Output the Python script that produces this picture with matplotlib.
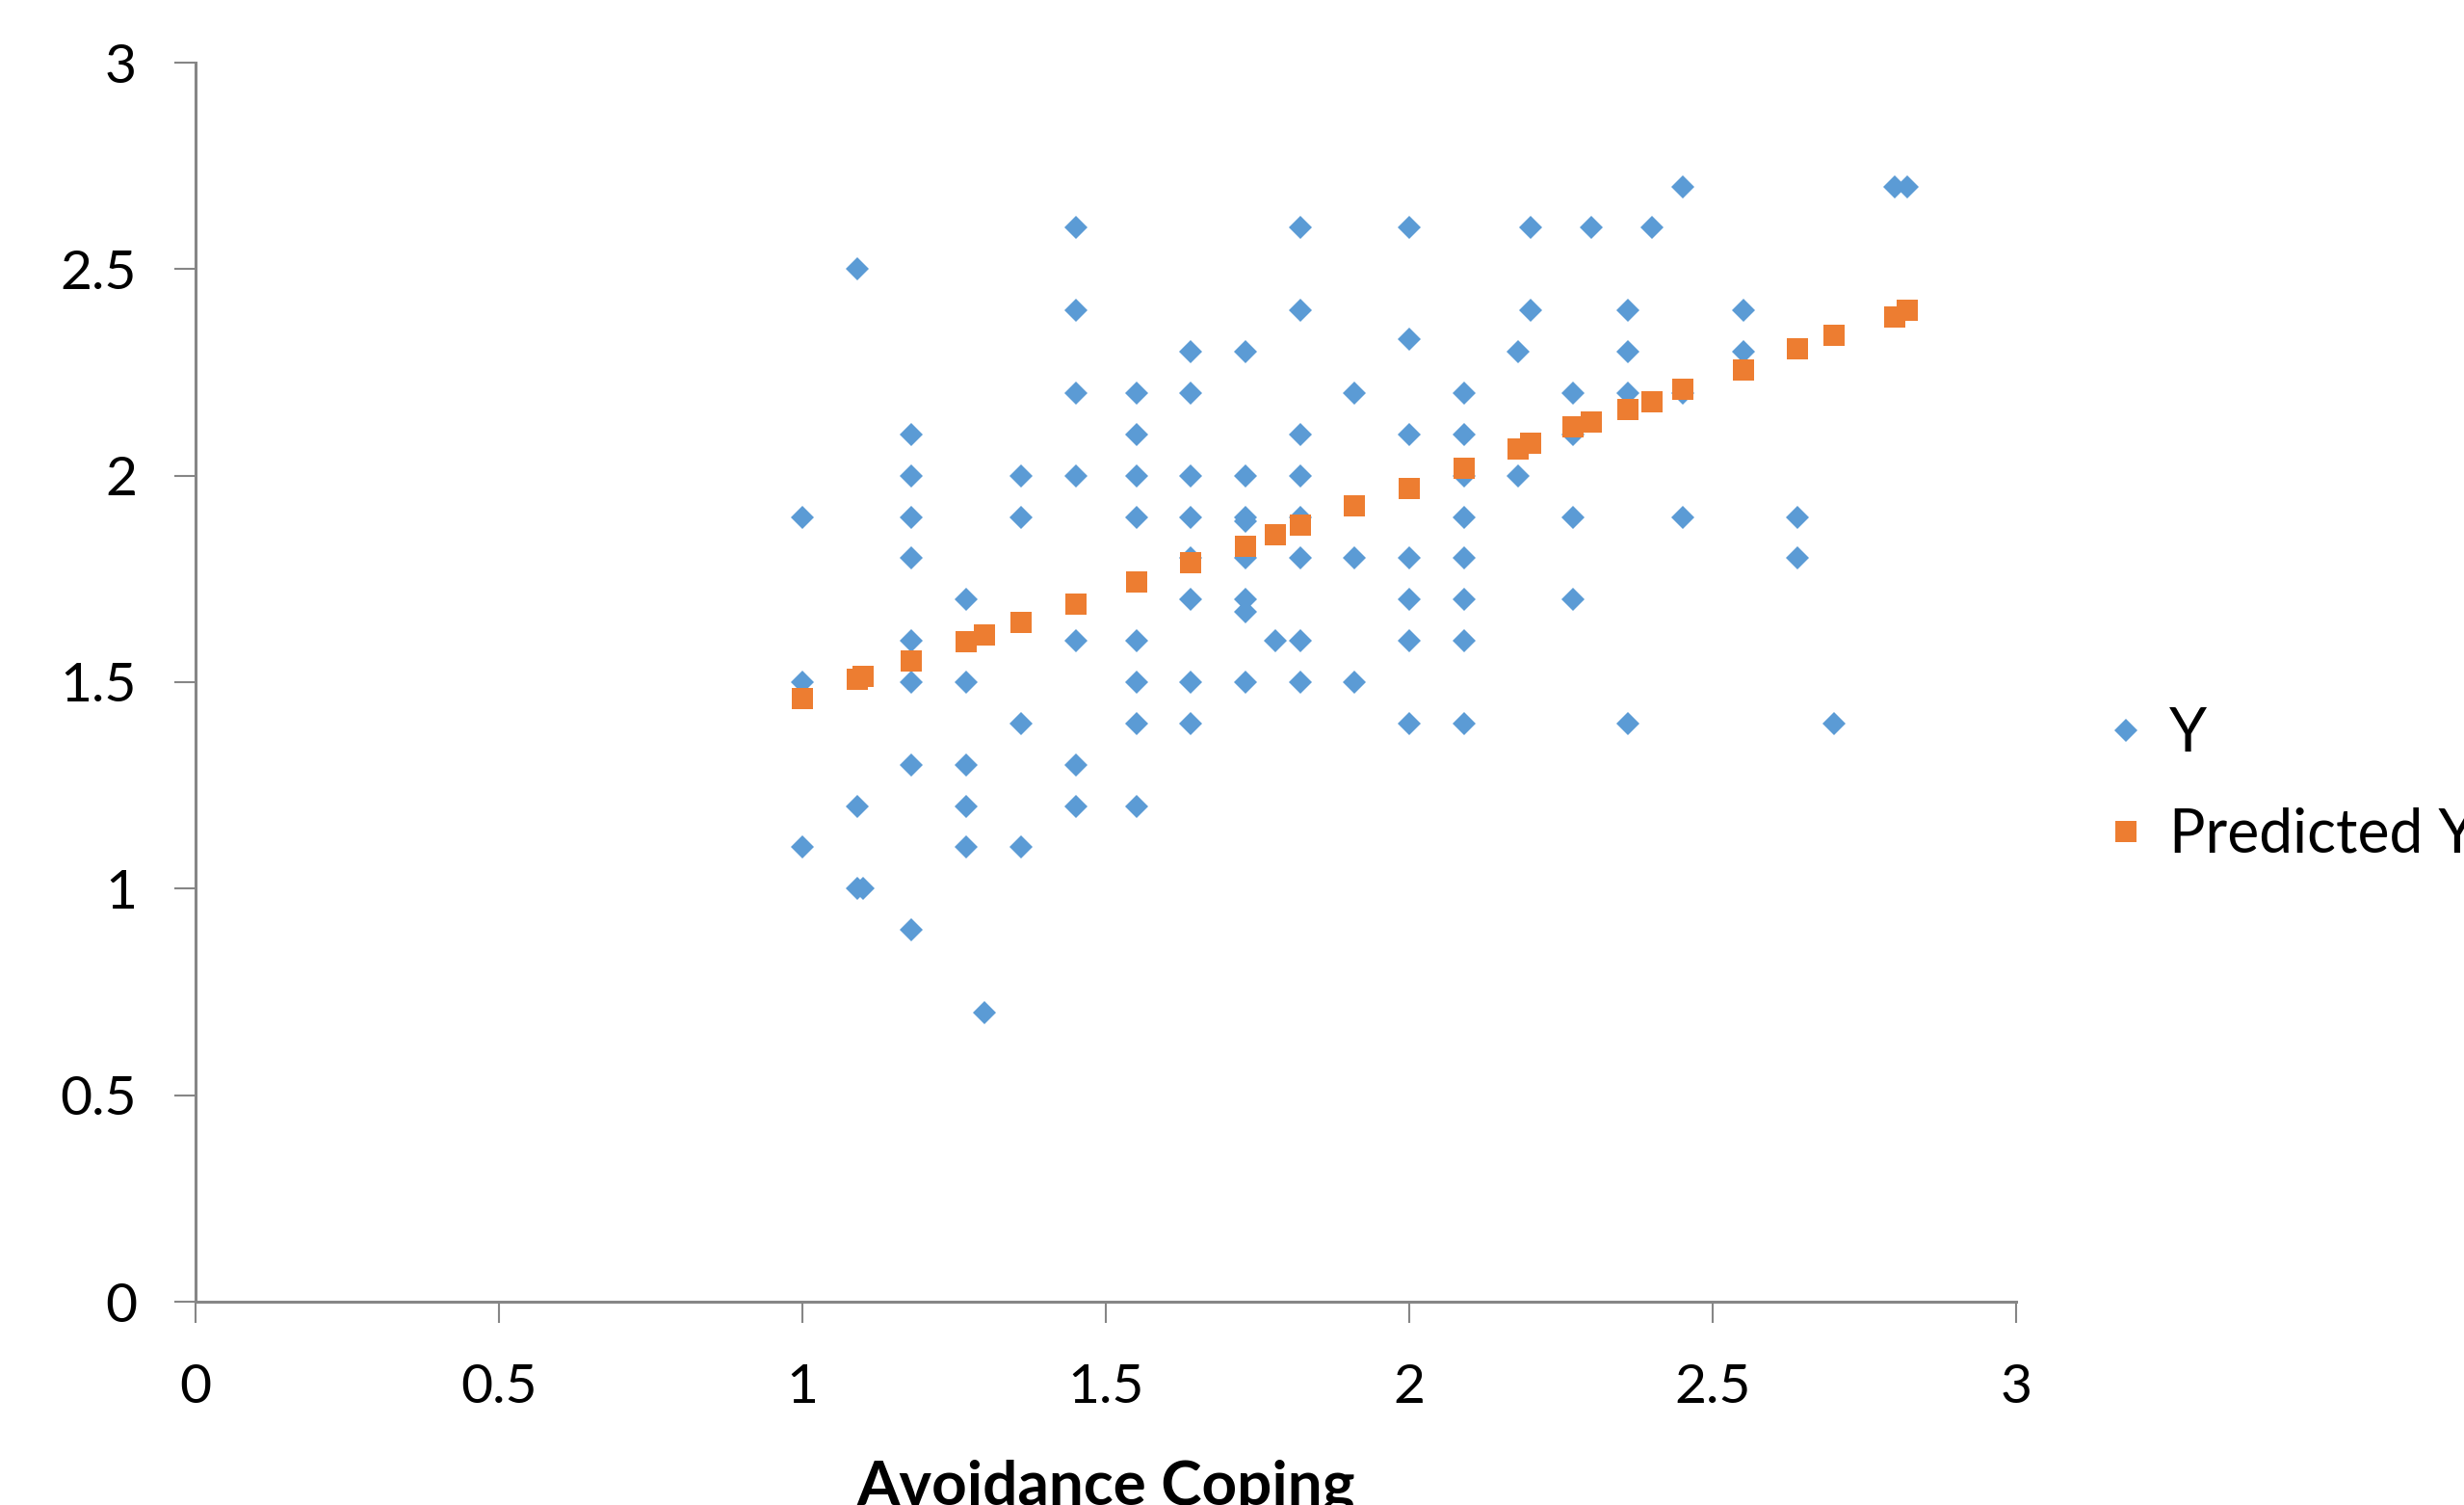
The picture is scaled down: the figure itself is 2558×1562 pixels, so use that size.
import matplotlib.pyplot as plt

# Avoidance coping levels (x) with observed Y values at each level
ac_levels = [1.00, 1.09, 1.10, 1.18, 1.27, 1.30, 1.36, 1.45, 1.55, 1.64,
             1.73, 1.78, 1.82, 1.91, 2.00, 2.09, 2.18, 2.20, 2.27, 2.30,
             2.36, 2.40, 2.45, 2.55, 2.64, 2.70, 2.80, 2.82]
y_at_level = [
    [1.9, 1.5, 1.1],
    [2.5, 1.2, 1.0],
    [1.0],
    [2.1, 2.0, 1.9, 1.8, 1.6, 1.5, 1.3, 0.9],
    [1.7, 1.5, 1.3, 1.2, 1.1],
    [0.7],
    [2.0, 1.9, 1.4, 1.1],
    [2.6, 2.4, 2.2, 2.0, 1.6, 1.3, 1.2],
    [2.2, 2.1, 2.0, 1.9, 1.6, 1.5, 1.4, 1.2],
    [2.3, 2.2, 2.0, 1.9, 1.8, 1.7, 1.5, 1.4],
    [2.3, 2.0, 1.9, 1.89, 1.8, 1.7, 1.67, 1.5],
    [1.6],
    [2.6, 2.4, 2.1, 2.0, 1.9, 1.8, 1.6, 1.5],
    [2.2, 1.8, 1.5],
    [2.6, 2.33, 2.1, 1.8, 1.7, 1.6, 1.4],
    [2.2, 2.1, 2.0, 1.9, 1.8, 1.7, 1.6, 1.4],
    [2.3, 2.0],
    [2.6, 2.4],
    [2.2, 2.1, 1.9, 1.7],
    [2.6],
    [2.4, 2.3, 2.2, 1.4],
    [2.6],
    [2.7, 2.2, 1.9],
    [2.4, 2.3],
    [1.9, 1.8],
    [1.4],
    [2.7],
    [2.7],
]

# Predicted Y at each level
predicted_y = [1.46, 1.507, 1.514, 1.551, 1.597, 1.614, 1.645, 1.689, 1.742, 1.789,
               1.83, 1.857, 1.88, 1.927, 1.97, 2.018, 2.064, 2.078, 2.118, 2.13,
               2.16, 2.18, 2.21, 2.256, 2.307, 2.34, 2.384, 2.40]

obs_x = []
obs_y = []
for lvl, vals in zip(ac_levels, y_at_level):
    for v in vals:
        obs_x.append(lvl)
        obs_y.append(v)

plt.rcParams['font.family'] = ['Lato', 'DejaVu Sans']
axis_grey = '#868686'

fig = plt.figure(figsize=(25.58, 15.62), dpi=100)
ax = fig.add_axes([203 / 2558, 1 - 1351 / 1562, (2093 - 203) / 2558, (1351 - 65) / 1562])

ax.plot(obs_x, obs_y, 'D', color='#5B9BD5', markersize=12, markeredgewidth=0, label='Y')
ax.plot(ac_levels, predicted_y, 's', color='#ED7D31', markersize=16.5, markeredgewidth=0,
        label='Predicted Y')

ax.set_xlim(0, 3)
ax.set_ylim(0, 3)
ax.set_xticks([0, 0.5, 1, 1.5, 2, 2.5, 3])
ax.set_xticklabels(['0', '0.5', '1', '1.5', '2', '2.5', '3'])
ax.set_yticks([0, 0.5, 1, 1.5, 2, 2.5, 3])
ax.set_yticklabels(['0', '0.5', '1', '1.5', '2', '2.5', '3'])

for side in ['top', 'right']:
    ax.spines[side].set_visible(False)
for side in ['left', 'bottom']:
    ax.spines[side].set_color(axis_grey)
    ax.spines[side].set_linewidth(2.2)

ax.tick_params(axis='both', direction='out', color=axis_grey, width=1.5,
               length=16, labelsize=41, labelcolor='black')
ax.tick_params(axis='x', pad=30)
ax.tick_params(axis='y', pad=28)

ax.set_xlabel('Avoidance Coping', fontsize=46, fontweight='bold')
ax.xaxis.set_label_coords(0.5, -0.127)

fig.legend(loc='center left', bbox_to_anchor=(2180 / 2558, 1 - 814.5 / 1562),
           frameon=False, fontsize=45, handlelength=0.85, handletextpad=0.3,
           borderpad=0, borderaxespad=0, labelspacing=0.75)

fig.savefig('out.png', dpi=100)
